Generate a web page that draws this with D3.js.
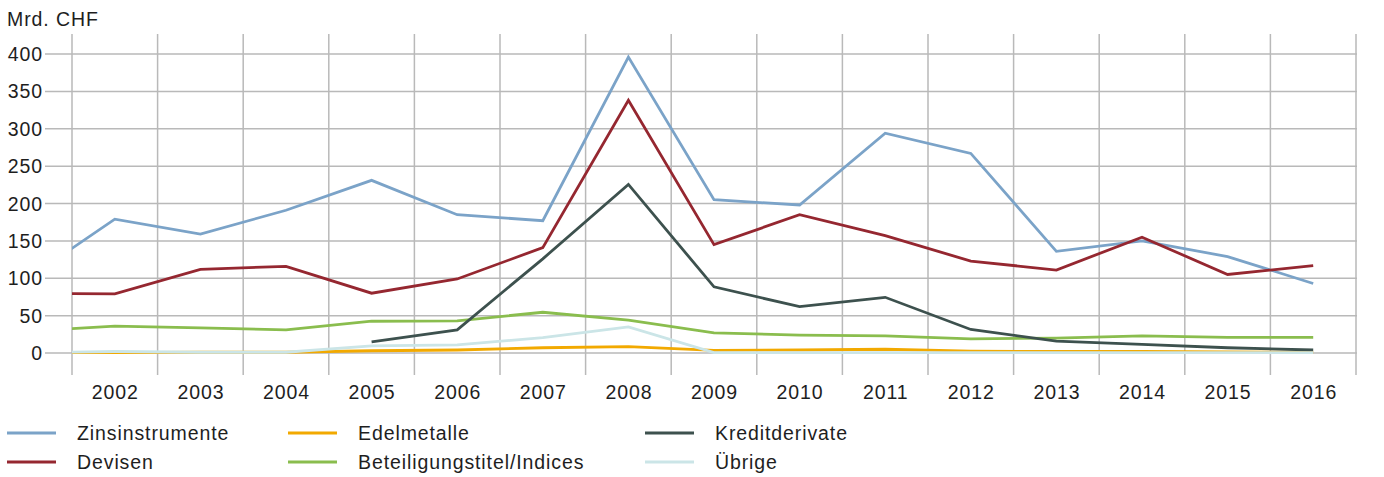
<!DOCTYPE html>
<html>
<head>
<meta charset="utf-8">
<script src="https://cdn.jsdelivr.net/npm/d3@7"></script>
<style>
  html, body { margin: 0; padding: 0; background: #fff; }
  svg { display: block; }
  text { font-family: "Liberation Sans", Arial, sans-serif; font-size: 19.5px; fill: #1e1e1e; letter-spacing: 0.9px; }
</style>
</head>
<body>
<svg id="chart" width="1384" height="477"></svg>
<script>
// Jahre (Werte ab 2001, sichtbar ab 2002)
const years = [2001, 2002, 2003, 2004, 2005, 2006, 2007, 2008, 2009, 2010, 2011, 2012, 2013, 2014, 2015, 2016];
const axisYears = [2002, 2003, 2004, 2005, 2006, 2007, 2008, 2009, 2010, 2011, 2012, 2013, 2014, 2015, 2016];
const yTicks = [0, 50, 100, 150, 200, 250, 300, 350, 400];

// Mrd. CHF
const zinsinstrumente = [101, 179, 159, 191, 231, 185, 177, 396, 205, 198, 294, 267, 136, 150, 129, 93];
const devisen         = [80, 79, 112, 116, 80, 99, 141, 338, 145, 185, 157, 123, 111, 155, 105, 117];
const edelmetalle     = [0.5, 0.5, 1, 1, 3, 4, 7, 8.5, 3.5, 4, 5, 2.5, 2, 2, 1.5, 1];
const beteiligung     = [29, 36, 33.5, 31, 42.5, 43, 54.5, 44, 27, 24, 23, 19, 20, 23, 21, 21];
const kreditderivate  = [null, null, null, null, 15, 31, 126, 225.5, 88.5, 62, 74.5, 31.5, 16, 11.5, 7, 4];
const uebrige         = [0.5, 2, 1, 1, 9.5, 11, 20.5, 35, 0.5, 0.5, 0.5, 0.5, 0.5, 0.5, 0.5, 0.5];

const series = [
  { name: "Zinsinstrumente", values: zinsinstrumente, color: "#7ba3c8" },
  { name: "Devisen", values: devisen, color: "#952730" },
  { name: "Edelmetalle", values: edelmetalle, color: "#f2a900" },
  { name: "Beteiligungstitel/Indices", values: beteiligung, color: "#8abd4e" },
  { name: "Kreditderivate", values: kreditderivate, color: "#3d514e" },
  { name: "Übrige", values: uebrige, color: "#cbe5e7" }
];

const svg = d3.select("#chart");
const plotLeft = 72, plotRight = 1356, plotTop = 54, plotBottom = 353;

const x = d3.scaleLinear().domain([2001.5, 2016.5]).range([plotLeft, plotRight]);
const y = d3.scaleLinear().domain([0, 400]).range([plotBottom, plotTop]);

const gridColor = "#b9b9b9";

// horizontale Gitterlinien
svg.append("g")
  .selectAll("line")
  .data(yTicks)
  .join("line")
  .attr("x1", 45).attr("x2", plotRight + 1)
  .attr("y1", d => y(d)).attr("y2", d => y(d))
  .attr("stroke", gridColor).attr("stroke-width", 1.5);

// vertikale Gitterlinien zwischen den Jahren
const bounds = d3.range(2001.5, 2017, 1);
svg.append("g")
  .selectAll("line")
  .data(bounds)
  .join("line")
  .attr("x1", d => x(d)).attr("x2", d => x(d))
  .attr("y1", 34).attr("y2", 375)
  .attr("stroke", gridColor).attr("stroke-width", 1.5);

// Y-Beschriftung
svg.append("g")
  .selectAll("text")
  .data(yTicks)
  .join("text")
  .attr("x", 43).attr("y", d => y(d))
  .attr("text-anchor", "end")
  .attr("dominant-baseline", "central")
  .text(d => d);

svg.append("text").attr("x", 7).attr("y", 26).text("Mrd. CHF");

// X-Beschriftung
svg.append("g")
  .selectAll("text")
  .data(axisYears)
  .join("text")
  .attr("x", d => x(d) + 0.5).attr("y", 399)
  .attr("text-anchor", "middle")
  .text(d => d);

// Linien
svg.append("defs").append("clipPath").attr("id", "plot")
  .append("rect").attr("x", plotLeft).attr("y", 0).attr("width", plotRight - plotLeft).attr("height", 400);

const line = d3.line()
  .defined(d => d[1] != null)
  .x(d => x(d[0]))
  .y(d => y(d[1]));

svg.append("g").attr("clip-path", "url(#plot)")
  .selectAll("path")
  .data(series)
  .join("path")
  .attr("d", s => line(years.map((yr, i) => [yr, s.values[i]])))
  .attr("fill", "none")
  .attr("stroke", s => s.color)
  .attr("stroke-width", 2.8)
  .attr("stroke-linejoin", "miter");

// Legende
const legendCols = [7, 288, 645];
const legendRows = [433, 462];
const legend = svg.append("g")
  .selectAll("g")
  .data(series)
  .join("g")
  .attr("transform", (s, i) => `translate(${legendCols[Math.floor(i / 2)]},${legendRows[i % 2]})`);

legend.append("line")
  .attr("x1", 0).attr("x2", 49).attr("y1", 0).attr("y2", 0)
  .attr("stroke", s => s.color).attr("stroke-width", 3);

legend.append("text")
  .attr("x", 70).attr("y", 7)
  .text(s => s.name);
</script>
</body>
</html>
